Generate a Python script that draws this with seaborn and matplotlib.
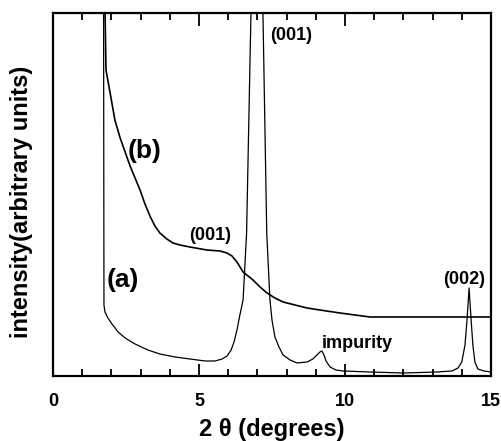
"""
    XRD patterns (a) and (b), intensity vs 2 theta
"""
import matplotlib
matplotlib.use('Agg')
import matplotlib.pyplot as plt
import numpy as np
import pandas as pd
import seaborn as sns
from matplotlib.ticker import MultipleLocator

## curve (a): sharp (001) at ~7 deg, impurity bump ~9.2, (002) at ~14.3
two_theta_a = [1.73, 1.745, 1.78, 1.88, 2.02, 2.23, 2.47, 2.81, 3.25, 3.66, 4.18, 4.69, 5.21,
               5.55, 5.79, 5.96, 6.10, 6.20, 6.30, 6.40, 6.51, 6.63, 6.78, 6.99, 7.19, 7.32,
               7.43, 7.50, 7.60, 7.74, 7.88, 8.12, 8.36, 8.70, 8.90, 9.04, 9.14, 9.21, 9.28,
               9.35, 9.49, 9.69, 9.93, 10.86, 11.99, 13.15, 13.66, 13.87, 14.00, 14.11, 14.18,
               14.25, 14.32, 14.38, 14.45, 14.55, 14.76, 15.0]
intensity_a = [420, 71, 64, 58, 52, 44, 38, 32, 26, 22, 19, 17, 15,
               15, 17, 20, 26, 34, 46, 61, 76, 143, 363, 700, 363, 143,
               76, 56, 39, 29, 21, 16, 13, 14, 17, 21, 24, 25, 21,
               15, 9, 6, 5, 4, 3, 4, 5, 8, 14, 31, 56,
               88, 56, 31, 14, 7, 5, 4]

## curve (b): broad (001) shoulder around 5-6 deg
two_theta_b = [1.75, 1.815, 1.95, 2.12, 2.30, 2.47, 2.64, 2.81, 2.98, 3.15, 3.32, 3.49, 3.66,
               3.90, 4.11, 4.35, 4.69, 5.27, 5.72, 5.96, 6.13, 6.30, 6.51, 6.68, 6.85, 7.09,
               7.33, 7.60, 7.88, 8.29, 8.70, 9.14, 9.83, 10.34, 10.86, 11.88, 15.0]
intensity_b = [420, 306, 284, 256, 238, 224, 210, 198, 186, 172, 160, 150, 143,
               137, 133, 131, 129, 126, 125, 123, 120, 114, 104, 100, 96, 89,
               83, 78, 74, 71, 68, 66, 63, 61, 59, 59, 59]

labels = ['(a)', '(b)', '(001)', '(001)', '(002)', 'impurity']

df_a = pd.DataFrame({'two_theta': two_theta_a, 'intensity': intensity_a})
df_b = pd.DataFrame({'two_theta': two_theta_b, 'intensity': intensity_b})

sns.set_style('ticks', {'axes.edgecolor': 'black', 'text.color': 'black',
                        'xtick.color': 'black', 'ytick.color': 'black',
                        'axes.labelcolor': 'black'})
plt.rcParams['font.family'] = ['Liberation Sans', 'DejaVu Sans']
plt.rcParams['font.weight'] = 'bold'

fig = plt.figure(figsize=(5.01, 4.41), dpi=100)
ax = fig.add_axes([0.1058, 0.1474, 0.8742, 0.8231])

sns.lineplot(data=df_a, x='two_theta', y='intensity', ax=ax, color='black', linewidth=0.9, sort=False)
sns.lineplot(data=df_b, x='two_theta', y='intensity', ax=ax, color='black', linewidth=1.2, sort=False)

ax.set_xlim(0, 15)
ax.set_ylim(0, 363)

# peak / curve labels
ax.text(2.38, 96, labels[0], fontsize=19, fontweight='bold', ha='center', va='center')
ax.text(3.15, 225, labels[1], fontsize=19, fontweight='bold', ha='center', va='center')
ax.text(8.17, 341, labels[2], fontsize=13, fontweight='bold', ha='center', va='center')
ax.text(5.39, 141, labels[3], fontsize=13, fontweight='bold', ha='center', va='center')
ax.text(14.08, 97, labels[4], fontsize=13, fontweight='bold', ha='center', va='center')
ax.text(10.43, 32, labels[5], fontsize=13, fontweight='bold', ha='center', va='center')

# ticks in, top + bottom, no y ticks
ax.xaxis.set_major_locator(MultipleLocator(5))
ax.xaxis.set_minor_locator(MultipleLocator(1))
ax.tick_params(axis='x', which='major', direction='in', length=9, width=1.3, top=True,
               labelsize=13, pad=12)
ax.tick_params(axis='x', which='minor', direction='in', length=5, width=1.3, top=True)
ax.set_yticks([])
for sp in ax.spines.values():
    sp.set_visible(True)
    sp.set_linewidth(1.6)
    sp.set_color('black')

ax.set_xlabel('2 θ (degrees)', fontsize=17, fontweight='bold', labelpad=6)
ax.set_ylabel('intensity(arbitrary units)', fontsize=17, fontweight='bold')
ax.yaxis.label.set_va('center')
ax.yaxis.set_label_coords(-0.071, 0.479)

fig.savefig('out.png', dpi=100)
